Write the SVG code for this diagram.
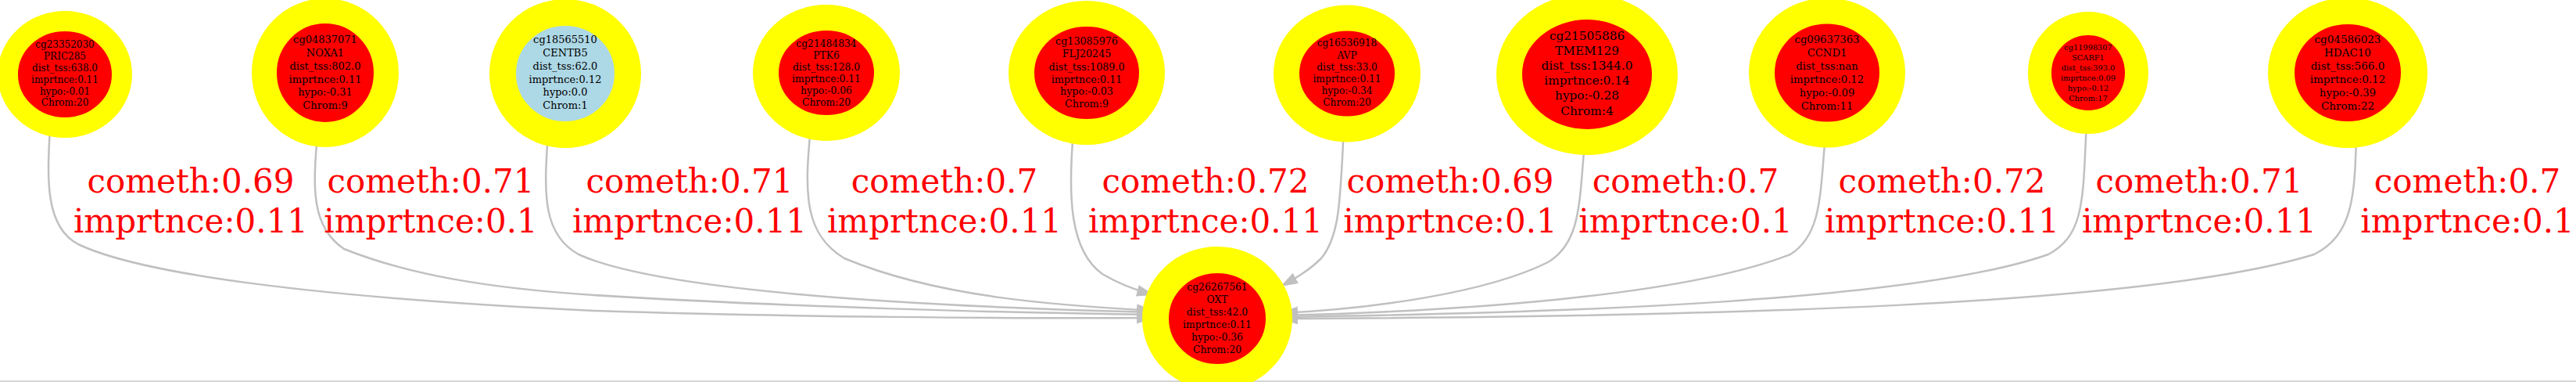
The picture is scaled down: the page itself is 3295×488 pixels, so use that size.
<svg xmlns="http://www.w3.org/2000/svg" width="3295" height="488" viewBox="0 0 3295 488">
<style>
.nd{stroke:#ffff00;}
.red{fill:#ff0000;}
.blue{fill:#add8e6;}
.nt{font-family:"DejaVu Serif","Liberation Serif",serif;fill:#000;text-anchor:middle;}
.el{font-family:"DejaVu Serif","Liberation Serif",serif;fill:#ff0000;text-anchor:middle;font-size:42px;}
.ed{fill:none;stroke:#c0c0c0;stroke-width:2.5;marker-end:url(#ah);}
</style>
<defs>
<marker id="ah" markerUnits="userSpaceOnUse" markerWidth="24" markerHeight="16" refX="22" refY="7.5" orient="auto">
<path d="M0,0 L22,7.5 L0,15 z" fill="#c0c0c0"/>
</marker>
</defs>
<rect x="0" y="0" width="3295" height="488" fill="#ffffff"/>
<line x1="0" y1="487" x2="3295" y2="487" stroke="#c8c8c8" stroke-width="1.5"/>
<g id="connectors">
<path class="ed" d="M64,164 C60,230 58,290 100,312 C180,350 400,380 760,397 C1000,405 1300,407 1476,406"/>
<path class="ed" d="M406,172 C400,240 398,290 440,318 C520,350 620,368 760,377 C1000,392 1300,400 1476,402"/>
<path class="ed" d="M701,172 C695,250 695,300 740,325 C850,375 1200,392 1476,399"/>
<path class="ed" d="M1037,164 C1028,250 1030,300 1080,330 C1200,380 1350,390 1476,397"/>
<path class="ed" d="M1373,168 C1366,250 1368,320 1410,350 C1430,362 1450,370 1476,377"/>
<path class="ed" d="M1719,165 C1714,250 1715,300 1690,330 C1675,345 1658,355 1638,366"/>
<path class="ed" d="M2027,182 C2020,260 2022,310 1980,335 C1900,375 1750,395 1638,400"/>
<path class="ed" d="M2335,172 C2328,250 2330,300 2290,325 C2150,380 1850,398 1638,403"/>
<path class="ed" d="M2669,157 C2664,250 2668,300 2620,325 C2450,385 2000,400 1638,405"/>
<path class="ed" d="M3014,172 C3012,250 3010,300 2960,325 C2750,390 2200,405 1638,407"/>
<text class="el" x="244" y="246">cometh:0.69</text><text class="el" x="244" y="297">imprtnce:0.11</text>
<text class="el" x="551" y="246">cometh:0.71</text><text class="el" x="551" y="297">imprtnce:0.1</text>
<text class="el" x="882" y="246">cometh:0.71</text><text class="el" x="882" y="297">imprtnce:0.11</text>
<text class="el" x="1208" y="246">cometh:0.7</text><text class="el" x="1208" y="297">imprtnce:0.11</text>
<text class="el" x="1542" y="246">cometh:0.72</text><text class="el" x="1542" y="297">imprtnce:0.11</text>
<text class="el" x="1855" y="246">cometh:0.69</text><text class="el" x="1855" y="297">imprtnce:0.1</text>
<text class="el" x="2156" y="246">cometh:0.7</text><text class="el" x="2156" y="297">imprtnce:0.1</text>
<text class="el" x="2484" y="246">cometh:0.72</text><text class="el" x="2484" y="297">imprtnce:0.11</text>
<text class="el" x="2813" y="246">cometh:0.71</text><text class="el" x="2813" y="297">imprtnce:0.11</text>
<text class="el" x="3156" y="246">cometh:0.7</text><text class="el" x="3156" y="297">imprtnce:0.1</text>
</g>
<g id="n1">
<ellipse class="nd red" cx="83" cy="95" rx="73" ry="68" stroke-width="26"/>
<text class="nt" font-size="12" x="83"><tspan x="83" y="61">cg23352030</tspan><tspan x="83" y="76">PRIC285</tspan><tspan x="83" y="91">dist_tss:638.0</tspan><tspan x="83" y="106">imprtnce:0.11</tspan><tspan x="83" y="121">hypo:-0.01</tspan><tspan x="83" y="135">Chrom:20</tspan></text>
</g>
<g id="n2">
<ellipse class="nd red" cx="416" cy="93" rx="78" ry="79" stroke-width="32"/>
<text class="nt" font-size="13"><tspan x="416" y="55">cg04837071</tspan><tspan x="416" y="72">NOXA1</tspan><tspan x="416" y="89">dist_tss:802.0</tspan><tspan x="416" y="106">imprtnce:0.11</tspan><tspan x="416" y="122">hypo:-0.31</tspan><tspan x="416" y="139">Chrom:9</tspan></text>
</g>
<g id="n3">
<ellipse class="nd blue" cx="723" cy="94" rx="80" ry="78" stroke-width="34"/>
<text class="nt" font-size="13"><tspan x="723" y="55">cg18565510</tspan><tspan x="723" y="72">CENTB5</tspan><tspan x="723" y="89">dist_tss:62.0</tspan><tspan x="723" y="106">imprtnce:0.12</tspan><tspan x="723" y="122">hypo:0.0</tspan><tspan x="723" y="139">Chrom:1</tspan></text>
</g>
<g id="n4">
<ellipse class="nd red" cx="1057" cy="93" rx="77.5" ry="70.5" stroke-width="33"/>
<text class="nt" font-size="12.3"><tspan x="1057" y="60">cg21484834</tspan><tspan x="1057" y="75">PTK6</tspan><tspan x="1057" y="90">dist_tss:128.0</tspan><tspan x="1057" y="105">imprtnce:0.11</tspan><tspan x="1057" y="120">hypo:-0.06</tspan><tspan x="1057" y="135">Chrom:20</tspan></text>
</g>
<g id="n5">
<ellipse class="nd red" cx="1390" cy="93" rx="83.5" ry="75.5" stroke-width="33"/>
<text class="nt" font-size="12.7"><tspan x="1390" y="57">cg13085976</tspan><tspan x="1390" y="73">FLJ20245</tspan><tspan x="1390" y="90">dist_tss:1089.0</tspan><tspan x="1390" y="106">imprtnce:0.11</tspan><tspan x="1390" y="121">hypo:-0.03</tspan><tspan x="1390" y="137">Chrom:9</tspan></text>
</g>
<g id="n6">
<ellipse class="nd red" cx="1723" cy="94" rx="77.5" ry="71" stroke-width="33"/>
<text class="nt" font-size="12.2"><tspan x="1723" y="59">cg16536918</tspan><tspan x="1723" y="75">AVP</tspan><tspan x="1723" y="90">dist_tss:33.0</tspan><tspan x="1723" y="105">imprtnce:0.11</tspan><tspan x="1723" y="120">hypo:-0.34</tspan><tspan x="1723" y="135">Chrom:20</tspan></text>
</g>
<g id="n7">
<ellipse class="nd red" cx="2030" cy="95" rx="99.5" ry="86.5" stroke-width="33"/>
<text class="nt" font-size="15.3"><tspan x="2030" y="51">cg21505886</tspan><tspan x="2030" y="70">TMEM129</tspan><tspan x="2030" y="89">dist_tss:1344.0</tspan><tspan x="2030" y="108">imprtnce:0.14</tspan><tspan x="2030" y="127">hypo:-0.28</tspan><tspan x="2030" y="147">Chrom:4</tspan></text>
</g>
<g id="n8">
<ellipse class="nd red" cx="2337" cy="93" rx="83.5" ry="79" stroke-width="33"/>
<text class="nt" font-size="13.2"><tspan x="2337" y="55">cg09637363</tspan><tspan x="2337" y="72">CCND1</tspan><tspan x="2337" y="89">dist_tss:nan</tspan><tspan x="2337" y="106">imprtnce:0.12</tspan><tspan x="2337" y="123">hypo:-0.09</tspan><tspan x="2337" y="140">Chrom:11</tspan></text>
</g>
<g id="n9">
<ellipse class="nd red" cx="2671" cy="93" rx="62" ry="63" stroke-width="30"/>
<text class="nt" font-size="9.8"><tspan x="2671" y="64">cg11998307</tspan><tspan x="2671" y="77">SCARF1</tspan><tspan x="2671" y="90">dist_tss:393.0</tspan><tspan x="2671" y="103">imprtnce:0.09</tspan><tspan x="2671" y="116">hypo:-0.12</tspan><tspan x="2671" y="129">Chrom:17</tspan></text>
</g>
<g id="n10">
<ellipse class="nd red" cx="3003" cy="93" rx="85" ry="79" stroke-width="34"/>
<text class="nt" font-size="13.5"><tspan x="3003" y="55">cg04586023</tspan><tspan x="3003" y="72">HDAC10</tspan><tspan x="3003" y="89">dist_tss:566.0</tspan><tspan x="3003" y="106">imprtnce:0.12</tspan><tspan x="3003" y="123">hypo:-0.39</tspan><tspan x="3003" y="140">Chrom:22</tspan></text>
</g>
<g id="n11">
<ellipse class="nd red" cx="1557" cy="407" rx="79" ry="75" stroke-width="34"/>
<text class="nt" font-size="12.3"><tspan x="1557" y="371">cg26267561</tspan><tspan x="1557" y="387">OXT</tspan><tspan x="1557" y="403">dist_tss:42.0</tspan><tspan x="1557" y="419">imprtnce:0.11</tspan><tspan x="1557" y="435">hypo:-0.36</tspan><tspan x="1557" y="451">Chrom:20</tspan></text>
</g>
</svg>
